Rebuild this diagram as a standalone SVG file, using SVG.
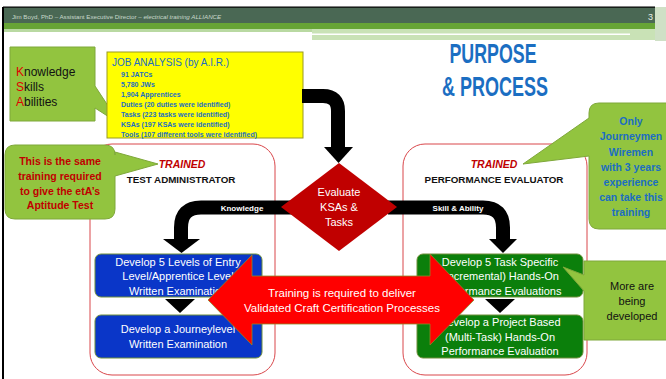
<svg xmlns="http://www.w3.org/2000/svg" width="666" height="379" viewBox="0 0 666 379">
<defs>
<style>
text{font-family:"Liberation Sans",Arial,sans-serif}
.callout{fill:#92c43f;stroke:#7fa83a;stroke-width:1}
.frame{fill:none;stroke:#d9474b;stroke-width:1}
.blue{fill:#0a36c8;stroke:#6f8f3a;stroke-width:1}
.green{fill:#0b7f0b;stroke:#6f8f3a;stroke-width:1}
.boxt{fill:#fff;font-size:11px;text-anchor:middle}
.item{fill:#1b6ec2;font-size:7px;font-weight:bold}
.band{fill:none;stroke:#000;stroke-width:14}
.bandt{fill:#fff;font-size:8px;font-weight:bold;text-anchor:middle}
.tr{fill:#c00000;font-size:10.5px;font-weight:bold;font-style:italic;text-anchor:middle}
.role{fill:#111;font-size:9.8px;font-weight:bold;text-anchor:middle}
.hdr{font-size:6.2px;fill:#c9d9cc}
</style>
</defs>

<g id="header">
<rect x="3" y="7" width="652" height="16" fill="#4a6854"/>
<rect x="3" y="6.5" width="652" height="1.2" fill="#000"/>
<rect x="3" y="23" width="652" height="6" fill="#67a436"/>
<rect x="3" y="29" width="652" height="3" fill="#b9d9a2"/>
<rect x="312" y="29" width="343" height="11" fill="#c9e2b6"/>
<rect x="312" y="33.5" width="318" height="1.5" fill="#fff"/>
<rect x="655" y="7" width="11" height="34" fill="#cfe0c6"/>
<text class="hdr" x="12" y="18.5">Jim Boyd, PhD – Assistant Executive Director – <tspan font-style="italic">electrical training ALLIANCE</tspan></text>
<text x="648" y="20" font-size="9" fill="#e8efe8">3</text>
<rect x="2" y="7" width="2" height="372" fill="#000"/>
</g>

<g id="title">
<text x="493" y="63" font-size="28" font-weight="bold" fill="#1b6ec2" text-anchor="middle" textLength="87" lengthAdjust="spacingAndGlyphs">PURPOSE</text>
<text x="495" y="96" font-size="28" font-weight="bold" fill="#1b6ec2" text-anchor="middle" textLength="106" lengthAdjust="spacingAndGlyphs">&amp; PROCESS</text>
</g>

<g id="frames">
<rect id="frame-admin" class="frame" x="90" y="144" width="185" height="231" rx="22"/>
<rect id="frame-eval" class="frame" x="403" y="144" width="184" height="231" rx="22"/>
</g>

<g id="ksa-callout">
<path class="callout" d="M10,47 H95 V86 L120,124 L95,108 V121 H10 Z"/>
<text x="16" y="76" font-size="12" fill="#111"><tspan fill="#e00000">K</tspan>nowledge</text>
<text x="16" y="91" font-size="12" fill="#111"><tspan fill="#e00000">S</tspan>kills</text>
<text x="16" y="106" font-size="12" fill="#111"><tspan fill="#e00000">A</tspan>bilities</text>
</g>

<g id="job-analysis">
<rect x="107" y="52" width="196" height="86" fill="#ffff00" stroke="#9a9a20" stroke-width="1"/>
<text x="112" y="66" font-size="10" fill="#1b6ec2">JOB ANALYSIS (by A.I.R.)</text>
<text class="item" x="121" y="77">91 JATCs</text>
<text class="item" x="121" y="87">5,780 JWs</text>
<text class="item" x="121" y="97">1,904 Apprentices</text>
<text class="item" x="121" y="107">Duties (20 duties were identified)</text>
<text class="item" x="121" y="117">Tasks (223 tasks were identified)</text>
<text class="item" x="121" y="127">KSAs (197 KSAs were identified)</text>
<text class="item" x="121" y="137">Tools (107 different tools were identified)</text>
</g>

<g id="connectors">
<path class="band" d="M302,96 H323 Q338,96 338,111 V148"/>
<polygon points="324,147 353,147 338.5,163" fill="#000"/>
<path class="band" d="M292,207.5 H201 Q181,207.5 181,227.5 V240"/>
<polygon points="163,239 200,239 181.5,253" fill="#000"/>
<path class="band" d="M388,207.5 H483 Q503,207.5 503,227.5 V240"/>
<polygon points="489,239 517,239 503,253" fill="#000"/>
<text class="bandt" x="242" y="210.5">Knowledge</text>
<text class="bandt" x="458" y="210.5">Skill &amp; Ability</text>
<polygon points="165,299 195,299 180,313" fill="#000"/>
<polygon points="485,299 515,299 500,313" fill="#000"/>
</g>

<g id="evaluate">
<polygon points="339,163 397,207 339,251 281,207" fill="#c00000"/>
<text x="339" y="196" font-size="11" fill="#fff" text-anchor="middle">Evaluate</text>
<text x="339" y="211" font-size="11" fill="#fff" text-anchor="middle">KSAs &amp;</text>
<text x="339" y="226" font-size="11" fill="#fff" text-anchor="middle">Tasks</text>
</g>

<g id="roles">
<text class="tr" x="182" y="168">TRAINED</text>
<text class="role" x="181" y="183">TEST ADMINISTRATOR</text>
<text class="tr" x="494" y="168">TRAINED</text>
<text class="role" x="494" y="183">PERFORMANCE EVALUATOR</text>
</g>

<g id="same-training-callout">
<path class="callout" d="M15,145 H105 Q115,145 115,155 V152 L158,164 L115,176 V209 Q115,219 105,219 H15 Q5,219 5,209 V155 Q5,145 15,145 Z"/>
<g font-size="10.5" font-weight="bold" fill="#c00000" text-anchor="middle">
<text x="60" y="165">This is the same</text>
<text x="60" y="180">training required</text>
<text x="60" y="195">to give the etA’s</text>
<text x="60" y="209">Aptitude Test</text>
</g>
</g>

<g id="journeymen-callout">
<path class="callout" d="M599,103 H670 V229 H599 Q589,229 589,219 V156 L523,164 L589,118 V113 Q589,103 599,103 Z"/>
<g font-size="10.5" font-weight="bold" fill="#1b6ec2" text-anchor="middle">
<text x="631" y="125">Only</text>
<text x="631" y="140">Journeymen</text>
<text x="631" y="156">Wiremen</text>
<text x="631" y="171">with 3 years</text>
<text x="631" y="186">experience</text>
<text x="631" y="201">can take this</text>
<text x="631" y="216">training</text>
</g>
</g>

<g id="admin-exam-1">
<rect class="blue" x="95" y="254" width="167" height="43" rx="6"/>
<text class="boxt" x="178" y="266">Develop 5 Levels of Entry</text>
<text class="boxt" x="178" y="280">Level/Apprentice Level</text>
<text class="boxt" x="178" y="295">Written Examination</text>
</g>
<g id="admin-exam-2">
<rect class="blue" x="95" y="315" width="167" height="43" rx="6"/>
<text class="boxt" x="178" y="333">Develop a Journeylevel</text>
<text class="boxt" x="178" y="348">Written Examination</text>
</g>

<g id="eval-1">
<rect class="green" x="417" y="254" width="166" height="43" rx="6"/>
<text class="boxt" x="500" y="266">Develop 5 Task Specific</text>
<text class="boxt" x="500" y="280">(Incremental) Hands-On</text>
<text class="boxt" x="500" y="295">Performance Evaluations</text>
</g>
<g id="eval-2">
<rect class="green" x="417" y="315" width="166" height="43" rx="6"/>
<text class="boxt" x="500" y="326">Develop a Project Based</text>
<text class="boxt" x="500" y="341">(Multi-Task) Hands-On</text>
<text class="boxt" x="500" y="355">Performance Evaluation</text>
</g>

<g id="more-callout">
<path class="callout" d="M584,261 H670 V340 H584 V291 L563,267 L584,275 Z"/>
<g font-size="11" fill="#111" text-anchor="middle">
<text x="632" y="290">More are</text>
<text x="632" y="305">being</text>
<text x="632" y="320">developed</text>
</g>
</g>

<g id="training-arrow">
<polygon points="208,300 252,255 252,276 430,276 430,254 474,300 430,345 430,324 252,324 252,345" fill="#ff0000" stroke="#8a8a2a" stroke-width="0.8"/>
<text x="342" y="297" font-size="11.5" fill="#fff" text-anchor="middle">Training is required to deliver</text>
<text x="342" y="312" font-size="11.5" fill="#fff" text-anchor="middle">Validated Craft Certification Processes</text>
</g>
</svg>
